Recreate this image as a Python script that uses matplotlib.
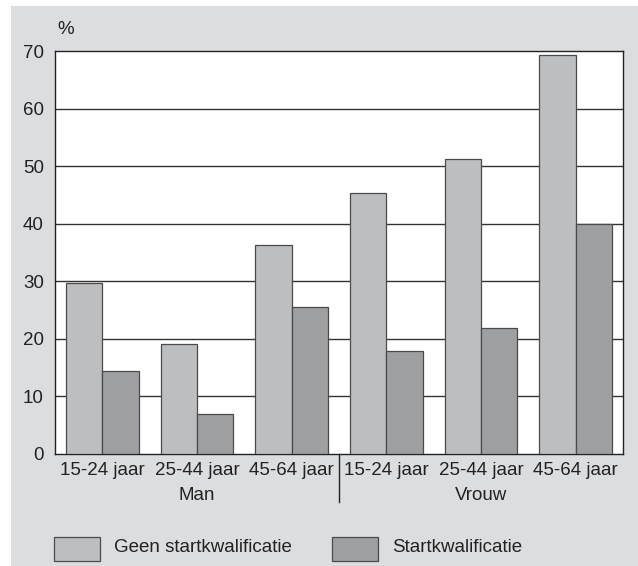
import numpy as np
import matplotlib
matplotlib.use("Agg")
import matplotlib.pyplot as plt
from matplotlib.patches import Rectangle
from matplotlib.lines import Line2D
import matplotlib.transforms as mtrans

# data
groups = ["Man", "Vrouw"]
ages = ["15-24 jaar", "25-44 jaar", "45-64 jaar"]
tick_labels = ages * 2
geen = [29.8, 19.1, 36.3, 45.3, 51.3, 69.4]
start = [14.4, 7.0, 25.6, 17.9, 21.9, 40.0]
series_names = ["Geen startkwalificatie", "Startkwalificatie"]

light = "#bdbec0"
dark = "#9e9fa1"
bg = "#dcdddf"
edge = "#4a4a4a"

plt.rcParams["font.family"] = ["Liberation Sans", "DejaVu Sans"]
plt.rcParams["font.size"] = 13.5

W, H = 638, 566
fig = plt.figure(figsize=(W / 100, H / 100), dpi=100)
fig.patch.set_facecolor("white")

# grey backdrop
fig.patches.append(Rectangle((11 / W, 0), 1 - 11 / W, (H - 6) / H,
                             transform=fig.transFigure, facecolor=bg,
                             edgecolor="none", zorder=-10))

ax = fig.add_axes([55 / W, (H - 454) / H, (623 - 55) / W, (454 - 51.3) / H])
ax.set_facecolor("white")

x = np.arange(len(tick_labels))
w = 0.384
ax.bar(x - w / 2, geen, w, color=light, edgecolor=edge, linewidth=0.9, zorder=3)
ax.bar(x + w / 2, start, w, color=dark, edgecolor=edge, linewidth=0.9, zorder=3)

ax.set_xlim(-0.5, len(x) - 0.5)
ax.set_ylim(0, 70)
ax.set_yticks(range(0, 71, 10))
for yv in range(10, 70, 10):
    ax.axhline(yv, color="#333333", linewidth=1.0, zorder=1)

ax.set_xticks(x, tick_labels)
ax.tick_params(axis="x", length=0, pad=6, colors="#222222")
ax.tick_params(axis="y", length=0, pad=8, colors="#222222")
for s in ax.spines.values():
    s.set_color("#222222")
    s.set_linewidth(1.0)

# group labels and separator
tr = mtrans.blended_transform_factory(ax.transData, fig.transFigure)
for i, g in enumerate(groups):
    ax.text(1 + 3 * i, (H - 496) / H, g, transform=tr, ha="center",
            va="center", color="#222222")
fig.add_artist(Line2D([339.3 / W, 339.3 / W], [(H - 454) / H, (H - 502) / H],
                      transform=fig.transFigure, color="#222222", linewidth=1.0))

fig.text(57 / W, (H - 29) / H, "%", ha="left", va="center", color="#222222")

# legend
for (x0, x1, tx), c, name in zip([(54, 100, 114), (332, 378, 392)],
                                 [light, dark], series_names):
    fig.patches.append(Rectangle((x0 / W, (H - 561) / H), (x1 - x0) / W, 24 / H,
                                 transform=fig.transFigure, facecolor=c,
                                 edgecolor=edge, linewidth=0.9))
    fig.text(tx / W, (H - 548) / H, name, ha="left", va="center", color="#222222")

fig.savefig("out.png", dpi=100)
